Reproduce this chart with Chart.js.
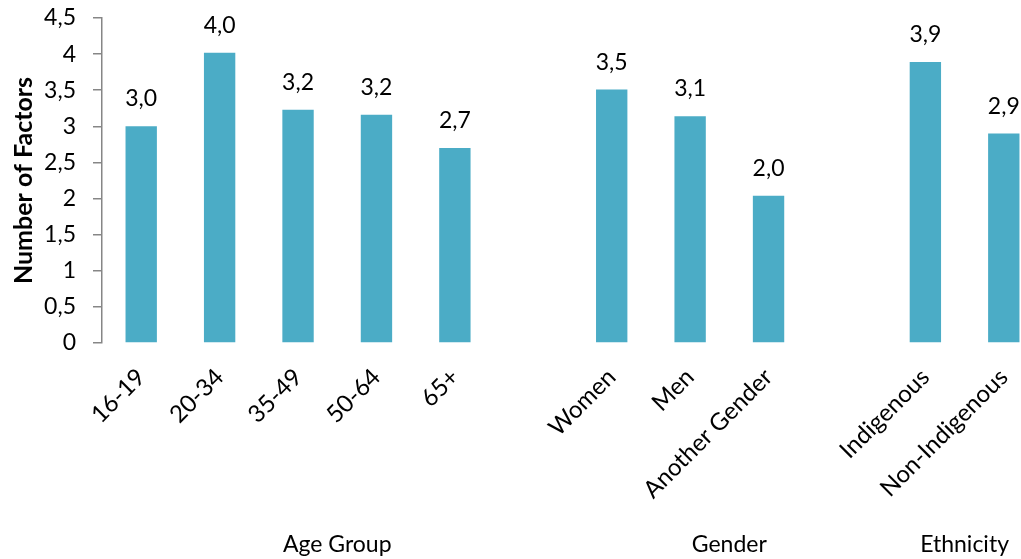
<!DOCTYPE html>
<html>
<head>
<meta charset="utf-8">
<script src="https://cdn.jsdelivr.net/npm/chart.js@4/dist/chart.umd.min.js"></script>
<style>
  html, body { margin: 0; padding: 0; background: #fff; overflow: hidden; }
  #wrap { width: 1043px; height: 559px; position: relative; }
</style>
</head>
<body>
<div id="wrap"><canvas id="factorsChart"></canvas></div>
<script>
// Categories (empty strings leave a gap between groups)
const categories = ['16-19', '20-34', '35-49', '50-64', '65+', '',
                    'Women', 'Men', 'Another Gender', '',
                    'Indigenous', 'Non-Indigenous'];
const factorCounts = [3.00, 4.02, 3.23, 3.16, 2.70, null,
                      3.51, 3.14, 2.04, null,
                      3.89, 2.90];
// Group captions and the slots they cover (first, last)
const groupNames = ['Age Group', 'Gender', 'Ethnicity'];
const groupSpans = [[0, 5], [6, 9], [10, 11]];
const yTicks = [0, 0.5, 1, 1.5, 2, 2.5, 3, 3.5, 4, 4.5];

const FONT = 'Lato, "Open Sans", sans-serif';
const SIZE = 23;
const fmt = v => String(v).replace('.', ',');

// value labels above the bars
const barLabels = {
  id: 'barLabels',
  afterDatasetsDraw(chart) {
    const ctx = chart.ctx;
    const meta = chart.getDatasetMeta(0);
    ctx.save();
    ctx.font = SIZE + 'px ' + FONT;
    ctx.fillStyle = '#000';
    ctx.textAlign = 'center';
    ctx.textBaseline = 'alphabetic';
    meta.data.forEach((bar, i) => {
      const v = factorCounts[i];
      if (v == null) return;
      ctx.fillText(v.toFixed(1).replace('.', ','), bar.x, bar.y - 20);
    });
    ctx.restore();
  }
};

// group captions under the rotated category labels
const groupCaptions = {
  id: 'groupCaptions',
  afterDraw(chart) {
    const ctx = chart.ctx;
    const x = chart.scales.x;
    ctx.save();
    ctx.font = SIZE + 'px ' + FONT;
    ctx.fillStyle = '#000';
    ctx.textAlign = 'center';
    ctx.textBaseline = 'alphabetic';
    groupNames.forEach((name, i) => {
      const [a, b] = groupSpans[i];
      const cx = (x.getPixelForValue(a) + x.getPixelForValue(b)) / 2;
      ctx.fillText(name, cx, 552);
    });
    ctx.restore();
  }
};

new Chart(document.getElementById('factorsChart'), {
  type: 'bar',
  data: {
    labels: categories,
    datasets: [{
      data: factorCounts,
      backgroundColor: '#4BACC6',
      borderWidth: 0,
      categoryPercentage: 1,
      barPercentage: 0.4
    }]
  },
  options: {
    responsive: true,
    maintainAspectRatio: false,
    animation: false,
    layout: { padding: { top: 18, right: 0, left: 0, bottom: 0 } },
    plugins: {
      legend: { display: false },
      tooltip: { enabled: false }
    },
    scales: {
      x: {
        grid: { display: false },
        border: { display: false },
        ticks: {
          color: '#000',
          font: { family: FONT, size: 24 },
          minRotation: 45,
          maxRotation: 45,
          autoSkip: false,
          padding: 12
        },
        afterFit(scale) { scale.height = 216; }
      },
      y: {
        min: 0,
        max: 4.5,
        afterBuildTicks(scale) { scale.ticks = yTicks.map(v => ({ value: v })); },
        grid: {
          drawOnChartArea: false,
          drawTicks: true,
          tickLength: 9,
          color: '#868686',
          lineWidth: 1.5
        },
        border: { display: true, color: '#868686', width: 1.5 },
        ticks: {
          color: '#000',
          font: { family: FONT, size: SIZE },
          padding: 17,
          callback: v => fmt(v)
        },
        title: {
          display: true,
          text: 'Number of Factors',
          color: '#000',
          font: { family: FONT, size: 25, weight: 'bold' },
          padding: { top: 9, bottom: 0 }
        },
        afterFit(scale) {
          scale.width = 102;
          scale.paddingTop = 0;
          scale.paddingBottom = 0;
        }
      }
    }
  },
  plugins: [barLabels, groupCaptions]
});
</script>
</body>
</html>
